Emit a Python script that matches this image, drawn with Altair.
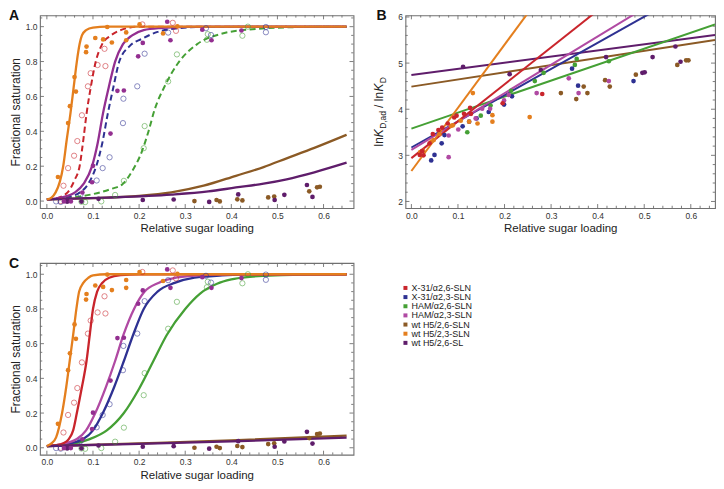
import altair as alt
import pandas as pd

FONT = "Liberation Sans"
FRAME = "#707070"
TXT = "#222222"

SERIES = ["X-31/α2,6-SLN", "X-31/α2,3-SLN", "HAM/α2,6-SLN", "HAM/α2,3-SLN",
          "wt H5/2,6-SLN", "wt H5/2,3-SLN", "wt H5/2,6-SL"]
COLORS = ["#c9252c", "#2e3192", "#45a035", "#b04aa3", "#8b5a25", "#e47f1e", "#5f1d6b"]
HAM23_DARK = "#932f90"

# ---------- saturation data (panels A and C) ----------
SAT_WT23N_X = [0.024, 0.046, 0.050, 0.060, 0.063, 0.085, 0.086, 0.105, 0.122, 0.131, 0.141, 0.172, 0.172, 0.201, 0.252, 0.283]
SAT_WT23N_Y = [0.138, 0.447, 0.544, 0.711, 0.628, 0.854, 0.886, 0.935, 0.927, 0.998, 0.909, 0.922, 0.967, 1.013, 0.961, 1.002]
SAT_X3126_X = [0.030, 0.036, 0.046, 0.059, 0.066, 0.076, 0.089, 0.095, 0.110, 0.125, 0.127, 0.207, 0.273, 0.280]
SAT_X3126_Y = [0.000, 0.088, 0.189, 0.260, 0.344, 0.492, 0.658, 0.733, 0.780, 0.873, 0.774, 1.013, 1.022, 0.976]
SAT_X3123_X = [0.020, 0.030, 0.073, 0.108, 0.121, 0.136, 0.165, 0.166, 0.196, 0.212, 0.263, 0.345, 0.356, 0.475, 0.475]
SAT_X3123_Y = [-0.002, -0.005, 0.038, 0.118, 0.189, 0.251, 0.447, 0.587, 0.658, 0.845, 0.966, 0.991, 0.952, 0.998, 0.968]
SAT_HAM26_X = [0.075, 0.083, 0.118, 0.148, 0.167, 0.210, 0.212, 0.263, 0.282, 0.347, 0.349, 0.424, 0.436]
SAT_HAM26_Y = [-0.004, -0.006, -0.002, 0.035, 0.116, 0.303, 0.430, 0.686, 0.841, 0.925, 0.957, 0.948, 1.000]
SAT_HAM23_X = [0.037, 0.052, 0.077, 0.098, 0.100, 0.138, 0.153, 0.167, 0.198, 0.208, 0.261, 0.268, 0.337, 0.357, 0.422]
SAT_HAM23_Y = [-0.002, -0.002, 0.049, 0.108, 0.202, 0.387, 0.632, 0.634, 0.830, 0.907, 1.028, 0.922, 0.983, 0.922, 0.978]
SAT_WT26L_X = [0.044, 0.075, 0.112, 0.208, 0.275, 0.352, 0.415, 0.494, 0.515, 0.564, 0.576]
SAT_WT26L_Y = [-0.004, -0.003, 0.013, 0.006, 0.009, -0.005, 0.038, 0.006, 0.036, 0.092, 0.024]
SAT_WT26N_X = [0.320, 0.368, 0.375, 0.413, 0.424, 0.480, 0.493, 0.569, 0.586, 0.592]
SAT_WT26N_Y = [0.000, 0.006, -0.002, 0.010, 0.004, 0.021, 0.026, 0.056, 0.079, 0.082]

# ---------- fitted curves, panel A ----------
A_WT23N_X = [0, 0.01, 0.019, 0.028, 0.0354, 0.043, 0.051, 0.058, 0.065, 0.071, 0.076, 0.085, 0.1, 0.13, 0.65]
A_WT23N_Y = [0.01, 0.02, 0.05, 0.11, 0.2, 0.35, 0.5, 0.65, 0.8, 0.9, 0.95, 0.98, 0.995, 1.0, 1.0]
A_X3126_X = [0, 0.02, 0.035, 0.045, 0.06, 0.071, 0.079, 0.086, 0.095, 0.106, 0.12, 0.139, 0.16, 0.18, 0.2, 0.65]
A_X3126_Y = [0.01, 0.015, 0.03, 0.05, 0.12, 0.2, 0.35, 0.5, 0.65, 0.8, 0.9, 0.95, 0.98, 0.995, 1.0, 1.0]
A_HAM23_X = [0, 0.03, 0.061, 0.08, 0.098, 0.11, 0.1215, 0.134, 0.148, 0.165, 0.185, 0.21, 0.25, 0.3, 0.35, 0.65]
A_HAM23_Y = [0.01, 0.02, 0.05, 0.1, 0.2, 0.33, 0.5, 0.65, 0.8, 0.9, 0.95, 0.98, 0.993, 0.999, 1.0, 1.0]
A_X3123_X = [0, 0.04, 0.072, 0.09, 0.107, 0.12, 0.132, 0.144, 0.157, 0.18, 0.206, 0.24, 0.28, 0.33, 0.65]
A_X3123_Y = [0.01, 0.02, 0.05, 0.1, 0.2, 0.33, 0.5, 0.65, 0.8, 0.89, 0.93, 0.97, 0.99, 0.998, 1.0]
A_HAM26_X = [0, 0.05, 0.1, 0.14, 0.164, 0.185, 0.206, 0.22, 0.234, 0.2555, 0.284, 0.326, 0.3755, 0.446, 0.552, 0.65]
A_HAM26_Y = [0.01, 0.02, 0.04, 0.07, 0.097, 0.172, 0.284, 0.396, 0.527, 0.658, 0.789, 0.9, 0.957, 0.985, 0.998, 1.0]
A_WT26N_X = [0, 0.1, 0.2, 0.27, 0.34, 0.41, 0.47, 0.52, 0.58, 0.65]
A_WT26N_Y = [0.01, 0.017, 0.03, 0.05, 0.088, 0.145, 0.195, 0.245, 0.305, 0.38]
A_WT26L_X = [0, 0.13, 0.27, 0.35, 0.41, 0.47, 0.52, 0.58, 0.65]
A_WT26L_Y = [0.01, 0.02, 0.037, 0.055, 0.078, 0.1, 0.125, 0.165, 0.22]

# ---------- fitted curves, panel C ----------
C_WT23N_X = [0, 0.01, 0.02, 0.033, 0.042, 0.0495, 0.057, 0.064, 0.07, 0.079, 0.09, 0.1, 0.13, 0.65]
C_WT23N_Y = [0.01, 0.025, 0.06, 0.2, 0.35, 0.5, 0.65, 0.8, 0.9, 0.95, 0.98, 0.993, 1.0, 1.0]
C_X3126_X = [0, 0.02, 0.035, 0.0475, 0.057, 0.065, 0.076, 0.086, 0.093, 0.1, 0.109, 0.12, 0.135, 0.16, 0.2, 0.65]
C_X3126_Y = [0.01, 0.015, 0.025, 0.05, 0.1, 0.2, 0.35, 0.5, 0.65, 0.8, 0.9, 0.95, 0.98, 0.995, 1.0, 1.0]
C_HAM23_X = [0, 0.03, 0.065, 0.085, 0.105, 0.128, 0.148, 0.166, 0.189, 0.212, 0.242, 0.28, 0.33, 0.4, 0.65]
C_HAM23_Y = [0.01, 0.02, 0.05, 0.1, 0.2, 0.35, 0.5, 0.65, 0.8, 0.9, 0.95, 0.98, 0.993, 0.999, 1.0]
C_X3123_X = [0, 0.04, 0.079, 0.1, 0.1215, 0.146, 0.167, 0.187, 0.21, 0.24, 0.277, 0.32, 0.38, 0.45, 0.65]
C_X3123_Y = [0.01, 0.02, 0.05, 0.1, 0.2, 0.35, 0.5, 0.65, 0.8, 0.9, 0.95, 0.98, 0.993, 0.999, 1.0]
C_HAM26_X = [0, 0.05, 0.093, 0.13, 0.167, 0.2, 0.231, 0.26, 0.3, 0.333, 0.369, 0.4, 0.44, 0.51, 0.6, 0.65]
C_HAM26_Y = [0.01, 0.02, 0.05, 0.1, 0.2, 0.34, 0.5, 0.65, 0.8, 0.89, 0.945, 0.97, 0.985, 0.995, 1.0, 1.0]
C_WT26N_X = [0, 0.2, 0.4, 0.65]
C_WT26N_Y = [0.01, 0.025, 0.042, 0.07]
C_WT26L_X = [0, 0.2, 0.4, 0.65]
C_WT26L_Y = [0.01, 0.022, 0.037, 0.058]

# ---------- panel B: ln K ratios ----------
B_WT23N_X = [0.019, 0.025, 0.043, 0.048, 0.060, 0.085, 0.089, 0.106, 0.124, 0.132, 0.142, 0.174, 0.174, 0.254]
B_WT23N_Y = [3.07, 3.10, 3.30, 3.33, 3.46, 3.64, 3.65, 3.75, 3.73, 4.35, 3.69, 3.87, 3.73, 3.83]
B_X3126_X = [0.018, 0.023, 0.026, 0.039, 0.046, 0.058, 0.066, 0.078, 0.092, 0.097, 0.113, 0.126, 0.128, 0.196, 0.281]
B_X3126_Y = [3.01, 3.09, 3.00, 3.26, 3.46, 3.55, 3.60, 3.69, 3.82, 3.86, 3.90, 4.03, 3.90, 4.13, 4.33]
B_X3123_X = [0.0425, 0.0496, 0.065, 0.071, 0.110, 0.124, 0.140, 0.166, 0.199, 0.216, 0.345, 0.358, 0.477]
B_X3123_Y = [2.89, 3.01, 3.26, 3.44, 3.63, 3.73, 3.80, 3.94, 4.10, 4.28, 4.88, 4.51, 4.61]
B_HAM23_X = [0.080, 0.080, 0.1007, 0.138, 0.152, 0.169, 0.199, 0.209, 0.269, 0.338, 0.359, 0.424]
B_HAM23_Y = [3.43, 2.96, 3.56, 3.80, 4.01, 4.01, 4.19, 4.31, 4.35, 4.67, 4.35, 4.61]
B_HAM26_X = [0.120, 0.149, 0.170, 0.214, 0.265, 0.284, 0.351, 0.355, 0.424]
B_HAM26_Y = [3.50, 3.86, 4.08, 4.40, 4.61, 4.79, 4.96, 5.09, 5.04]
B_WT26L_X = [0.111, 0.211, 0.278, 0.418, 0.496, 0.501, 0.518, 0.567, 0.578]
B_WT26L_Y = [4.92, 4.76, 4.85, 5.13, 4.79, 4.80, 5.13, 5.36, 5.03]
B_WT26N_X = [0.321, 0.354, 0.370, 0.378, 0.416, 0.426, 0.482, 0.571, 0.590, 0.595]
B_WT26N_Y = [4.35, 4.22, 4.49, 4.35, 4.63, 4.49, 4.75, 4.96, 5.06, 5.06]

# fitted straight lines in B (end points)
BL_WT23N = ([0, 0.26], [2.66, 6.22])
BL_X3126 = ([0, 0.40], [2.94, 6.14])
BL_HAM23 = ([0, 0.49], [3.12, 6.13])
BL_X3123 = ([0, 0.52], [3.17, 6.12])
BL_HAM26 = ([0, 0.652], [3.58, 5.84])
BL_WT26L = ([0, 0.652], [4.74, 5.61])
BL_WT26N = ([0, 0.652], [4.49, 5.50])

# axis ticks
X_MAJOR = [0.0, 0.1, 0.2, 0.3, 0.4, 0.5, 0.6]
X_MINOR = [0.02, 0.04, 0.06, 0.08, 0.12, 0.14, 0.16, 0.18, 0.22, 0.24, 0.26, 0.28, 0.32, 0.34,
           0.36, 0.38, 0.42, 0.44, 0.46, 0.48, 0.52, 0.54, 0.56, 0.58, 0.62, 0.64]
S_MAJOR = [0.0, 0.2, 0.4, 0.6, 0.8, 1.0]
S_MINOR = [0.05, 0.1, 0.15, 0.25, 0.3, 0.35, 0.45, 0.5, 0.55, 0.65, 0.7, 0.75, 0.85, 0.9, 0.95, 1.05]
B_MAJOR = [2, 3, 4, 5, 6]
B_MINOR = [2.2, 2.4, 2.6, 2.8, 3.2, 3.4, 3.6, 3.8, 4.2, 4.4, 4.6, 4.8, 5.2, 5.4, 5.6, 5.8]

CSCALE = alt.Scale(domain=SERIES, range=COLORS)
S = dict(zip(["X3126", "X3123", "HAM26", "HAM23", "WT26N", "WT23N", "WT26L"], SERIES))


def color_enc(color=None):
    if color:
        return alt.value(color)
    return alt.Color("series:N", scale=CSCALE, legend=None)


def line(xs, ys, key, X, Y, dash=False, width=2.0, color=None, interp="monotone"):
    df = pd.DataFrame({"x": xs, "y": ys, "series": S[key]})
    kw = dict(strokeWidth=width, interpolate=interp, clip=True)
    if dash:
        kw["strokeDash"] = [6, 3.5]
    return alt.Chart(df).mark_line(**kw).encode(x=X, y=Y, color=color_enc(color))


def pts(xs, ys, key, X, Y, filled=True, color=None, size=22):
    df = pd.DataFrame({"x": xs, "y": ys, "series": S[key]})
    if filled:
        mk = alt.Chart(df).mark_circle(size=size, opacity=1, clip=True)
    else:
        mk = alt.Chart(df).mark_point(size=size + 6, filled=False, strokeWidth=0.8, opacity=0.7, clip=True)
    return mk.encode(x=X, y=Y, color=color_enc(color))


def frame_ticks(X, Y, w, h, xmaj, xmin, ymaj, ymin):
    layers = []
    for vals, L in ((xmaj, 4.0), (xmin, 2.3)):
        base = alt.Chart(pd.DataFrame({"x": vals})).mark_rule(color=FRAME, strokeWidth=0.9)
        layers.append(base.encode(x=X, y=alt.value(h), y2=alt.value(h - L)))
        layers.append(base.encode(x=X, y=alt.value(0), y2=alt.value(L)))
    for vals, L in ((ymaj, 4.0), (ymin, 2.3)):
        base = alt.Chart(pd.DataFrame({"y": vals})).mark_rule(color=FRAME, strokeWidth=0.9)
        layers.append(base.encode(y=Y, x=alt.value(0), x2=alt.value(L)))
        layers.append(base.encode(y=Y, x=alt.value(w), x2=alt.value(w - L)))
    return layers


def panel_label(t, dx):
    return alt.Chart(pd.DataFrame({"t": [t]})).mark_text(
        align="left", baseline="top", fontSize=14, fontWeight="bold", font=FONT, color="#111111"
    ).encode(text="t:N", x=alt.value(dx), y=alt.value(-6))


XAX = alt.Axis(values=X_MAJOR, format=".1f", title="Relative sugar loading")
SAT_SCALE = alt.Scale(domain=[-0.04, 1.065], nice=False, zero=False)
SAX = alt.Axis(values=S_MAJOR, format=".1f", title="Fractional saturation")

# ---------------- Panel A ----------------
WA, HA = 314, 193
XA = alt.X("x:Q", scale=alt.Scale(domain=[-0.015, 0.665], nice=False, zero=False), axis=XAX)
YA = alt.Y("y:Q", scale=SAT_SCALE, axis=SAX)

A_layers = frame_ticks(XA, YA, WA, HA, X_MAJOR, X_MINOR, S_MAJOR, S_MINOR) + [
    line(A_HAM26_X, A_HAM26_Y, "HAM26", XA, YA, dash=True),
    line(A_X3123_X, A_X3123_Y, "X3123", XA, YA, dash=True),
    line(A_X3126_X, A_X3126_Y, "X3126", XA, YA, dash=True),
    line(A_HAM23_X, A_HAM23_Y, "HAM23", XA, YA, width=2.3, color=HAM23_DARK),
    line(A_WT26N_X, A_WT26N_Y, "WT26N", XA, YA, width=2.3),
    line(A_WT26L_X, A_WT26L_Y, "WT26L", XA, YA, width=2.3),
    line(A_WT23N_X, A_WT23N_Y, "WT23N", XA, YA, width=2.3),
    pts(SAT_X3126_X, SAT_X3126_Y, "X3126", XA, YA, filled=False),
    pts(SAT_X3123_X, SAT_X3123_Y, "X3123", XA, YA, filled=False),
    pts(SAT_HAM26_X, SAT_HAM26_Y, "HAM26", XA, YA, filled=False),
    pts(SAT_WT26N_X, SAT_WT26N_Y, "WT26N", XA, YA),
    pts(SAT_WT26L_X, SAT_WT26L_Y, "WT26L", XA, YA),
    pts(SAT_HAM23_X, SAT_HAM23_Y, "HAM23", XA, YA, color=HAM23_DARK),
    pts(SAT_WT23N_X, SAT_WT23N_Y, "WT23N", XA, YA),
    panel_label("A", -31),
]
panelA = alt.layer(*A_layers).properties(width=WA, height=HA)

# ---------------- Panel B ----------------
WB, HB = 310, 193
XB = alt.X("x:Q", scale=alt.Scale(domain=[-0.0128, 0.652], nice=False, zero=False), axis=XAX)
YB = alt.Y("y:Q", scale=alt.Scale(domain=[1.857, 6.036], nice=False, zero=False),
           axis=alt.Axis(values=B_MAJOR, format="d", title=""))

# y-axis title pieces: lnK_{D,ad} / lnK_{D}
TITLE_PIECES = [("ln", 12, "normal", 0), ("K", 12, "italic", 0), ("D,ad", 8.5, "normal", 3),
                ("/ ln", 12, "normal", 0), ("K", 12, "italic", 0), ("D", 8.5, "normal", 3)]
PIECE_LEN = [9.3, 8.3, 21.0, 16.5, 8.3, 6.2]


def b_title():
    layers = []
    total = sum(PIECE_LEN)
    y0 = HB / 2 + total / 2
    for (t, fs, st, sub), L in zip(TITLE_PIECES, PIECE_LEN):
        layers.append(
            alt.Chart(pd.DataFrame({"t": [t]})).mark_text(
                align="left", baseline="alphabetic", angle=270, fontSize=fs, fontStyle=st,
                font=FONT, color=TXT
            ).encode(text="t:N", x=alt.value(-22 + sub), y=alt.value(y0))
        )
        y0 -= L
    return layers


B_layers = frame_ticks(XB, YB, WB, HB, X_MAJOR, X_MINOR, B_MAJOR, B_MINOR) + [
    line(*BL_WT26N, "WT26N", XB, YB, interp="linear"),
    line(*BL_WT26L, "WT26L", XB, YB, interp="linear"),
    line(*BL_HAM26, "HAM26", XB, YB, interp="linear"),
    line(*BL_X3123, "X3123", XB, YB, interp="linear"),
    line(*BL_HAM23, "HAM23", XB, YB, interp="linear"),
    line(*BL_X3126, "X3126", XB, YB, interp="linear"),
    line(*BL_WT23N, "WT23N", XB, YB, interp="linear"),
    pts(B_WT26N_X, B_WT26N_Y, "WT26N", XB, YB),
    pts(B_WT26L_X, B_WT26L_Y, "WT26L", XB, YB),
    pts(B_HAM26_X, B_HAM26_Y, "HAM26", XB, YB),
    pts(B_X3123_X, B_X3123_Y, "X3123", XB, YB),
    pts(B_HAM23_X, B_HAM23_Y, "HAM23", XB, YB),
    pts(B_WT23N_X, B_WT23N_Y, "WT23N", XB, YB),
    pts(B_X3126_X, B_X3126_Y, "X3126", XB, YB),
    panel_label("B", -29),
] + b_title()
panelB = alt.layer(*B_layers).properties(width=WB, height=HB)

# ---------------- Panel C ----------------
WC, HC = 314, 192
XC = alt.X("x:Q", scale=alt.Scale(domain=[-0.015, 0.665], nice=False, zero=False), axis=XAX)
YC = alt.Y("y:Q", scale=SAT_SCALE, axis=SAX)

C_layers = frame_ticks(XC, YC, WC, HC, X_MAJOR, X_MINOR, S_MAJOR, S_MINOR) + [
    line(C_HAM26_X, C_HAM26_Y, "HAM26", XC, YC, width=2.3),
    line(C_X3123_X, C_X3123_Y, "X3123", XC, YC, width=2.3),
    line(C_HAM23_X, C_HAM23_Y, "HAM23", XC, YC, width=2.3),
    line(C_X3126_X, C_X3126_Y, "X3126", XC, YC, width=2.3),
    line(C_WT26N_X, C_WT26N_Y, "WT26N", XC, YC, width=2.3),
    line(C_WT26L_X, C_WT26L_Y, "WT26L", XC, YC, width=2.3),
    line(C_WT23N_X, C_WT23N_Y, "WT23N", XC, YC, width=2.3),
    pts(SAT_X3126_X, SAT_X3126_Y, "X3126", XC, YC, filled=False),
    pts(SAT_X3123_X, SAT_X3123_Y, "X3123", XC, YC, filled=False),
    pts(SAT_HAM26_X, SAT_HAM26_Y, "HAM26", XC, YC, filled=False),
    pts(SAT_WT26N_X, SAT_WT26N_Y, "WT26N", XC, YC),
    pts(SAT_WT26L_X, SAT_WT26L_Y, "WT26L", XC, YC),
    pts(SAT_HAM23_X, SAT_HAM23_Y, "HAM23", XC, YC, color=HAM23_DARK),
    pts(SAT_WT23N_X, SAT_WT23N_Y, "WT23N", XC, YC),
    panel_label("C", -31),
]
panelC = alt.layer(*C_layers).properties(width=WC, height=HC)

# ---------------- Legend ----------------
leg_df = pd.DataFrame({"series": SERIES})
LY = alt.Y("series:N", sort=SERIES,
           scale=alt.Scale(type="point", domain=SERIES, range=[25, 80], padding=0), axis=None)
leg_sq = alt.Chart(leg_df).mark_square(size=16, opacity=1).encode(
    y=LY, x=alt.value(2), color=alt.Color("series:N", scale=CSCALE, legend=None))
leg_tx = alt.Chart(leg_df).mark_text(align="left", baseline="middle", fontSize=9, font=FONT,
                                     color=TXT).encode(y=LY, x=alt.value(8), text="series:N")
legend = alt.layer(leg_sq, leg_tx).properties(
    width=100, height=HC, view=alt.ViewBackground(stroke="transparent"))

top = alt.hconcat(panelA, panelB, spacing=18)
bottom = alt.hconcat(panelC, legend, spacing=48)
chart = alt.vconcat(top, bottom, spacing=21).properties(
    padding={"left": 0, "top": 0, "right": 0, "bottom": 0}
).configure_axis(
    labelFont=FONT, titleFont=FONT, labelFontSize=8.5, titleFontSize=11.5,
    titleFontWeight="normal", labelColor="#333333", titleColor=TXT,
    ticks=False, tickSize=0, domain=False, grid=False, labelPadding=3, titlePadding=3
).configure_axisY(titleFontSize=12).configure_view(stroke=FRAME, strokeWidth=1.1)

chart.save("out.html", embed_options={"renderer": "svg", "actions": False})
